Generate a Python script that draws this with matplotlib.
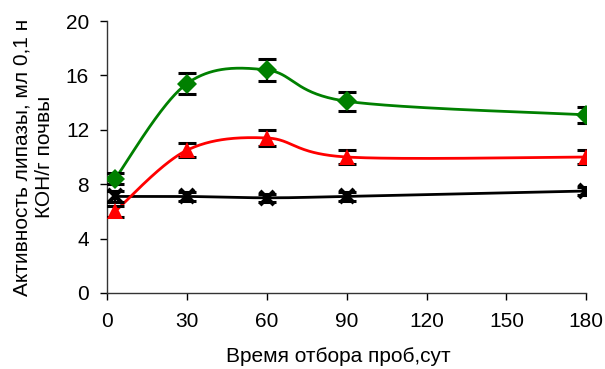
import numpy as np
import matplotlib
matplotlib.use("Agg")
import matplotlib.pyplot as plt

plt.rcParams['font.family'] = ['Liberation Sans', 'DejaVu Sans']

days = [3, 30, 60, 90, 180]
green_vals = [8.4, 15.4, 16.4, 14.1, 13.1]
green_err = [0.4, 0.8, 0.8, 0.7, 0.6]
red_vals = [6.0, 10.5, 11.4, 10.0, 10.0]
red_err = [0.4, 0.5, 0.6, 0.5, 0.5]
black_vals = [7.1, 7.1, 7.0, 7.1, 7.5]
black_err = [0.4, 0.3, 0.3, 0.3, 0.3]
xticks = [0, 30, 60, 90, 120, 150, 180]
yticks = [0, 4, 8, 12, 16, 20]


def smooth(xs, ys, n=60):
    """Cubic Bezier smoothing through the points (Catmull-Rom style)."""
    x = np.asarray(xs, float)
    y = np.asarray(ys, float)
    px = np.concatenate([[x[0]], x, [x[-1]]])
    py = np.concatenate([[y[0]], y, [y[-1]]])
    ox, oy = [], []
    for i in range(1, len(px) - 2):
        p0 = np.array([px[i - 1], py[i - 1]])
        p1 = np.array([px[i], py[i]])
        p2 = np.array([px[i + 1], py[i + 1]])
        p3 = np.array([px[i + 2], py[i + 2]])
        c1 = p1 + (p2 - p0) / 6.0
        c2 = p2 - (p3 - p1) / 6.0
        t = np.linspace(0, 1, n)[:, None]
        b = ((1 - t) ** 3) * p1 + 3 * ((1 - t) ** 2) * t * c1 + 3 * (1 - t) * t ** 2 * c2 + t ** 3 * p2
        ox.extend(b[:, 0])
        oy.extend(b[:, 1])
    return ox, oy


fig = plt.figure(figsize=(6.05, 3.69), dpi=100)
ax = fig.add_axes([0.177, 0.206, 0.792, 0.737])

series = [
    (black_vals, black_err, 'black', 'x', 10, 3, 'black'),
    (red_vals, red_err, 'red', '^', 12, 0, 'red'),
    (green_vals, green_err, 'green', 'D', 10, 0, 'green'),
]

for vals, err, col, mk, ms, mew, mfc in series:
    sx, sy = smooth(days, vals)
    ax.plot(sx, sy, color=col, lw=2, zorder=2)
    ax.errorbar(days, vals, yerr=err, fmt='none', ecolor='black',
                elinewidth=1.6, capsize=6.5, capthick=2.2, zorder=3)
    ax.plot(days, vals, linestyle='none', marker=mk, markersize=ms,
            color=mfc, markeredgewidth=mew, zorder=4)

ax.set_xlim(0, 180)
ax.set_ylim(0, 20)
ax.set_xticks(xticks)
ax.set_yticks(yticks)
ax.tick_params(axis='both', labelsize=15, direction='out', length=5, width=1)
ax.tick_params(axis='y', pad=8)
ax.tick_params(axis='x', pad=9)
ax.spines['top'].set_visible(False)
ax.spines['right'].set_visible(False)
for s in ('left', 'bottom'):
    ax.spines[s].set_linewidth(1)
    ax.spines[s].set_color('#333333')

fig.text(338 / 605, 1 - 356 / 369, 'Время отбора проб,сут', fontsize=15,
         ha='center', va='center')
fig.text(33 / 605, 1 - 157 / 369, 'Активность липазы, мл 0,1 н\nКОН/г почвы',
         fontsize=15, rotation=90, ha='center', va='center',
         multialignment='center', linespacing=1.2)

fig.savefig('out.png', dpi=100)
